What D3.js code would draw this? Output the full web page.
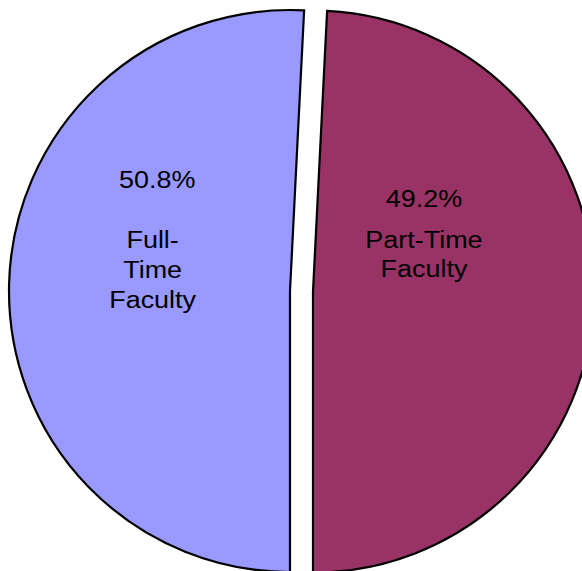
<!DOCTYPE html>
<html>
<head>
<meta charset="utf-8">
<script src="https://cdn.jsdelivr.net/npm/d3@7"></script>
<style>
  html, body { margin: 0; padding: 0; background: #fff; }
  svg { display: block; }
  text { font-family: "Liberation Sans", Arial, sans-serif; fill: #000; }
</style>
</head>
<body>
<svg id="chart" width="582" height="571"></svg>
<script>
// Faculty composition
const categories = ["Full-Time Faculty", "Part-Time Faculty"];
const shares = [50.8, 49.2];
const percentLabels = ["50.8%", "49.2%"];
const nameLines = [["Full-", "Time", "Faculty"], ["Part-Time", "Faculty"]];
const colors = ["#9999FF", "#993366"];

const width = 582, height = 571;
const cx = 290, cy = 291, radius = 281;

// Slice styling / layout per category
const explode = [0, 23];                 // pull-out distance for each slice
const labelRadius = [0.473, 0.395];      // label anchor, fraction of radius
const percentDy = [-99.4, -87];          // baseline of the % line from anchor
const nameDx = [-4.5, 0];                // horizontal nudge of the name block
const nameDy = [[-39.4, -9.4, 20.6], [-46, -17.7]];

const svg = d3.select("#chart");

const color = d3.scaleOrdinal().domain(categories).range(colors);

const pie = d3.pie()
  .sort(null)
  .value(d => d.value)
  .startAngle(Math.PI)
  .endAngle(3 * Math.PI);

const data = categories.map((c, i) => ({ name: c, value: shares[i], idx: i }));
const arcs = pie(data);

const arc = d3.arc().innerRadius(0).outerRadius(radius);

const slices = svg.append("g")
  .attr("transform", `translate(${cx},${cy})`)
  .selectAll("g.slice")
  .data(arcs)
  .join("g")
  .attr("class", "slice")
  .attr("transform", d => {
    const mid = (d.startAngle + d.endAngle) / 2;
    const off = explode[d.data.idx];
    return `translate(${off * Math.sin(mid)},${-off * Math.cos(mid)})`;
  });

slices.append("path")
  .attr("d", arc)
  .attr("fill", d => color(d.data.name))
  .attr("stroke", "#000")
  .attr("stroke-width", 2.2)
  .attr("stroke-linejoin", "miter");

// Labels: percentage line followed by the category name
const fontSize = 24.5, stretch = 1.1;
slices.each(function(d) {
  const i = d.data.idx;
  const mid = (d.startAngle + d.endAngle) / 2;
  const lr = radius * labelRadius[i];
  const ax = lr * Math.sin(mid);
  const ay = -lr * Math.cos(mid);
  const g = d3.select(this).append("g")
    .attr("transform", `translate(${ax},${ay}) scale(${stretch},1)`);
  g.append("text")
    .attr("text-anchor", "middle")
    .attr("font-size", fontSize)
    .attr("y", percentDy[i])
    .text(percentLabels[i]);
  nameLines[i].forEach((line, k) => {
    g.append("text")
      .attr("text-anchor", "middle")
      .attr("font-size", fontSize)
      .attr("x", nameDx[i] / stretch)
      .attr("y", nameDy[i][k])
      .text(line);
  });
});
</script>
</body>
</html>
